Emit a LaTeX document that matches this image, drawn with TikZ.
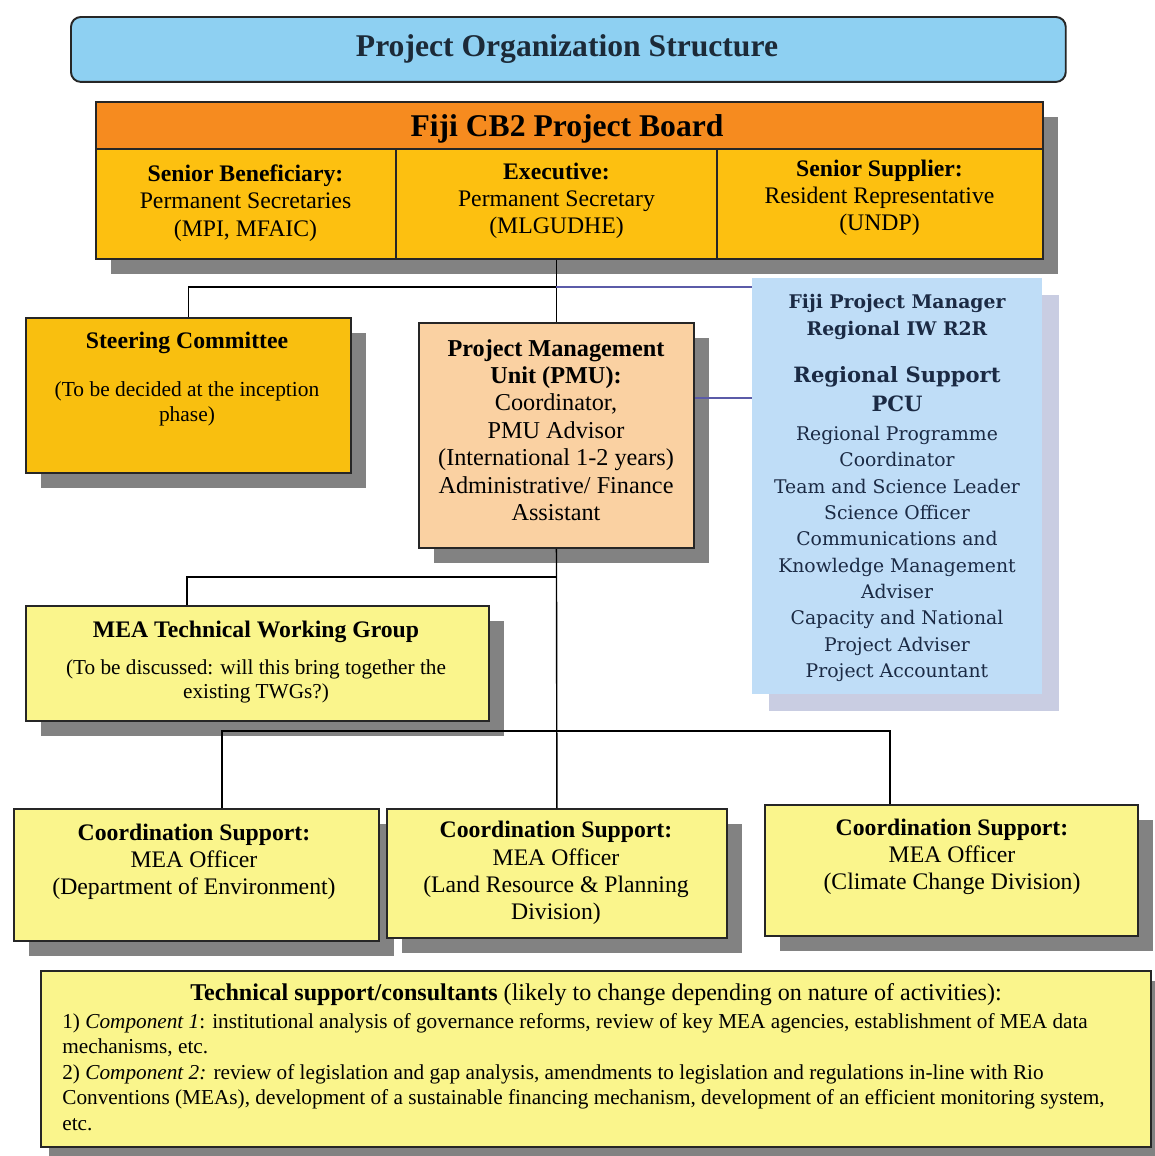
\documentclass[tikz,border=0pt]{standalone}
\usepackage{fontspec}
\setmainfont{Liberation Serif}
\newfontfamily\pcufont{DejaVu Serif}
\usetikzlibrary{shadows}
\definecolor{titlec}{HTML}{8ED0F2}
\definecolor{titletxt}{HTML}{1C2A38}
\definecolor{bordc}{HTML}{262626}
\definecolor{orangec}{HTML}{F68B1F}
\definecolor{goldc}{HTML}{FDC010}
\definecolor{steerc}{HTML}{F9BF0F}
\definecolor{pmuc}{HTML}{FAD1A2}
\definecolor{pcuc}{HTML}{BFDDF7}
\definecolor{pcushc}{HTML}{C9CDE2}
\definecolor{pcutxt}{HTML}{1B2A44}
\definecolor{yelc}{HTML}{FAF58C}
\definecolor{shadc}{HTML}{828282}
\definecolor{purpc}{HTML}{5B5BA8}
\newcommand\fs[2]{\fontsize{#1}{#2}\selectfont}
\begin{document}
\begin{tikzpicture}[x=0.02cm,y=-0.02cm,
  bx/.style={draw=bordc, line width=1.1pt, inner sep=0pt, anchor=north west},
  sh/.style={drop shadow={opacity=1, fill=shadc, shadow xshift=0.3cm, shadow yshift=-0.3cm}},
  txt/.style={align=center, inner sep=0pt, font=\fs{13.5}{15.5}},
  conn/.style={draw=black, line width=0.8pt},
  pconn/.style={draw=purpc, line width=1pt},
  pcut/.style={align=center, inner sep=0pt, text=pcutxt}]
\useasboundingbox[fill=white] (0,0) rectangle (1154,1156);

% title
\node[bx, fill=titlec, rounded corners=0.2cm, minimum width=19.9cm, minimum height=1.3cm] (title) at (70,16) {};
\node[inner sep=0pt, font=\bfseries\fs{18}{20}, text=titletxt] (titletext) at (567,49) {Project Organization Structure};

% project board
\node[bx, fill=orangec, minimum width=18.94cm, minimum height=0.94cm, sh] (brdhead) at (95,101) {};
\node[bx, fill=goldc, minimum width=18.94cm, minimum height=2.2cm, sh] (brd) at (95,148) {};
\draw[draw=bordc, line width=1pt] (396,148) -- (396,258) (717,148) -- (717,258);
\node[inner sep=0pt, font=\bfseries\fs{18}{20}] (brdtitle) at (567,129) {Fiji CB2 Project Board};
\node[txt] (sb) at (245.5,203) {\textbf{Senior Beneficiary:}\\Permanent Secretaries\\(MPI, MFAIC)};
\node[txt] (ex) at (556.5,201) {\textbf{Executive:}\\Permanent Secretary\\(MLGUDHE)};
\node[txt] (ss) at (879.5,198) {\textbf{Senior Supplier:}\\Resident Representative\\(UNDP)};

% steering committee
\node[bx, fill=steerc, minimum width=6.5cm, minimum height=3.1cm, sh] (steer) at (25,317) {};
\node[inner sep=0pt, font=\bfseries\fs{13.5}{15.5}] (steert) at (187,343) {Steering Committee};
\node[txt, font=\fs{12.2}{14.2}] (steers) at (187,404) {(To be decided at the inception\\phase)};

% PMU
\node[bx, fill=pmuc, minimum width=5.5cm, minimum height=4.5cm, sh] (pmu) at (418,322) {};
\node[txt, font=\fs{13.8}{15.6}] (pmut) at (556,430) {\textbf{Project Management}\\\textbf{Unit (PMU):}\\Coordinator,\\PMU Advisor\\(International 1-2 years)\\Administrative/ Finance\\Assistant};

% PCU
\node[anchor=north west, inner sep=0pt, fill=pcuc, minimum width=5.8cm, minimum height=8.32cm,
  drop shadow={opacity=1, fill=pcushc, shadow xshift=0.34cm, shadow yshift=-0.34cm}] (pcu) at (752,278) {};
\node[pcut, font=\pcufont\bfseries\fs{10.7}{15.8}] (pcu1) at (897,317) {Fiji Project Manager\\Regional IW R2R};
\node[pcut, font=\pcufont\bfseries\fs{12}{16.5}] (pcu2) at (897,389.5) {Regional Support\\PCU};
\node[pcut, font=\pcufont\fs{10.7}{15}] (pcu3) at (897,554) {Regional Programme\\Coordinator\\Team and Science Leader\\Science Officer\\Communications and\\Knowledge Management\\Adviser\\Capacity and National\\Project Adviser\\Project Accountant};

% MEA TWG
\node[bx, fill=yelc, minimum width=9.26cm, minimum height=2.3cm, sh] (twg) at (25,605) {};
\node[inner sep=0pt, font=\bfseries\fs{13.5}{15.5}] (twgt) at (256,632) {MEA Technical Working Group};
\node[txt, font=\fs{12.1}{13.6}] (twgs) at (256,681) {(To be discussed: will this bring together the\\existing TWGs?)};

% coordination support
\node[bx, fill=yelc, minimum width=7.3cm, minimum height=2.64cm, sh] (c1) at (13,808) {};
\node[txt] (c1t) at (194,862) {\textbf{Coordination Support:}\\MEA Officer\\(Department of Environment)};
\node[bx, fill=yelc, minimum width=6.8cm, minimum height=2.58cm, sh] (c2) at (386,808) {};
\node[txt] (c2t) at (556,873) {\textbf{Coordination Support:}\\MEA Officer\\(Land Resource \& Planning\\Division)};
\node[bx, fill=yelc, minimum width=7.46cm, minimum height=2.62cm, sh] (c3) at (764,804) {};
\node[txt] (c3t) at (952,857) {\textbf{Coordination Support:}\\MEA Officer\\(Climate Change Division)};

% technical support
\node[bx, fill=yelc, minimum width=22.2cm, minimum height=3.52cm,
  drop shadow={opacity=1, fill=shadc, shadow xshift=0.16cm, shadow yshift=-0.2cm}] (tech) at (40,970) {};
\node[inner sep=0pt, font=\fs{13.7}{14.5}] (techt) at (596,995) {\textbf{Technical support/consultants} (likely to change depending on nature of activities):};
\node[anchor=west, align=left, inner sep=0pt, font=\fs{12.1}{14.5}] (techb) at (62,1072) {1) \textit{Component 1}: institutional analysis of governance reforms, review of key MEA agencies, establishment of MEA data\\mechanisms, etc.\\2) \textit{Component 2:} review of legislation and gap analysis, amendments to legislation and regulations in-line with Rio\\Conventions (MEAs), development of a sustainable financing mechanism, development of an efficient monitoring system,\\etc.};

% connectors
\coordinate (j1) at (556,287);
\coordinate (j2) at (556,577);
\coordinate (bus) at (556,731);
\coordinate (twgtop) at (187,605);
\coordinate (c1top) at (222,808);
\coordinate (c3top) at (890,804);
\draw[conn] (brd.south -| pmu.north) -- (pmu.north);
\draw[conn] (j1) -| (steer.north);
\draw[pconn] (j1) -- (j1 -| pcu.west);
\draw[pconn] ([yshift=0.75cm]pmu.east) -- ([yshift=0.75cm]pmu.east -| pcu.west);
\draw[conn] (pmu.south) -- (c2.north);
\draw[conn] (j2) -| (twgtop);
\draw[conn] (c1top) |- (bus) -| (c3top);
\end{tikzpicture}
\end{document}
